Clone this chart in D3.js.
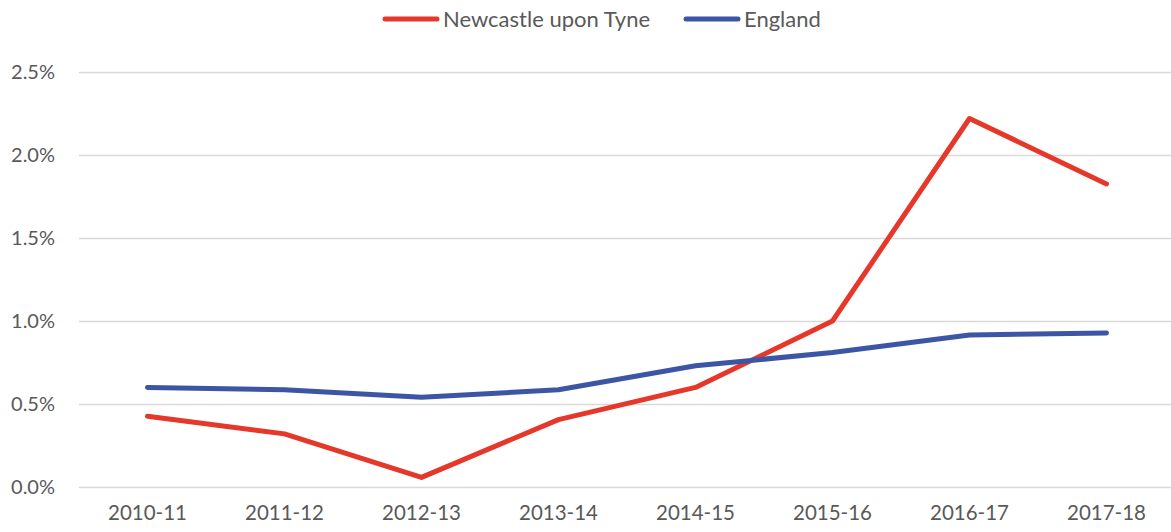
<!DOCTYPE html>
<html>
<head>
<meta charset="utf-8">
<script src="https://cdn.jsdelivr.net/npm/d3@7"></script>
<style>
  body { margin: 0; background: #fff; }
  svg { display: block; font-family: Lato, "Open Sans", sans-serif; }
</style>
</head>
<body>
<svg id="chart" width="1171" height="532"></svg>
<script>
const years = ["2010-11", "2011-12", "2012-13", "2013-14", "2014-15", "2015-16", "2016-17", "2017-18"];
const newcastle = [0.426, 0.32, 0.058, 0.406, 0.60, 1.0, 2.22, 1.826];
const england = [0.60, 0.586, 0.54, 0.586, 0.73, 0.81, 0.916, 0.928];
const yTicks = [0, 0.5, 1.0, 1.5, 2.0, 2.5];

const series = [
  {name: "Newcastle upon Tyne", values: newcastle, color: "#E5372A"},
  {name: "England", values: england, color: "#3D55A5"}
];

const width = 1171, height = 532;
const margin = {top: 72, right: 0, bottom: 45, left: 79};

const svg = d3.select("#chart");

const x = d3.scaleBand()
    .domain(years)
    .range([margin.left, margin.left + 137 * years.length]);

const y = d3.scaleLinear()
    .domain([0, 2.5])
    .range([height - margin.bottom, margin.top]);

// gridlines
svg.append("g")
  .selectAll("line")
  .data(yTicks)
  .join("line")
    .attr("x1", margin.left)
    .attr("x2", width)
    .attr("y1", d => Math.round(y(d)) + 0.5)
    .attr("y2", d => Math.round(y(d)) + 0.5)
    .attr("stroke", "#d9d9d9")
    .attr("stroke-width", 1.3);

// y labels
svg.append("g")
  .selectAll("text")
  .data(yTicks)
  .join("text")
    .attr("x", 55)
    .attr("y", d => y(d))
    .attr("dy", "0.35em")
    .attr("text-anchor", "end")
    .attr("fill", "#595959")
    .attr("font-size", 20)
    .text(d => d.toFixed(1) + "%");

// x labels
svg.append("g")
  .selectAll("text")
  .data(years)
  .join("text")
    .attr("x", d => x(d) + x.bandwidth() / 2)
    .attr("y", 520)
    .attr("text-anchor", "middle")
    .attr("fill", "#595959")
    .attr("font-size", 20.5)
    .text(d => d);

const line = d3.line()
    .x((d, i) => x(years[i]) + x.bandwidth() / 2)
    .y(d => y(d));

svg.append("g")
  .selectAll("path")
  .data(series)
  .join("path")
    .attr("fill", "none")
    .attr("stroke", d => d.color)
    .attr("stroke-width", 5)
    .attr("stroke-linejoin", "round")
    .attr("stroke-linecap", "round")
    .attr("d", d => line(d.values));

// legend
const legendPos = [383, 684];
const legend = svg.append("g")
  .selectAll("g")
  .data(series)
  .join("g")
    .attr("transform", (d, i) => `translate(${legendPos[i]},19)`);

legend.append("line")
    .attr("x1", 2).attr("x2", 54)
    .attr("stroke", d => d.color)
    .attr("stroke-width", 5)
    .attr("stroke-linecap", "round");

legend.append("text")
    .attr("x", 60)
    .attr("dy", "0.35em")
    .attr("fill", "#595959")
    .attr("font-size", 22)
    .text(d => d.name);
</script>
</body>
</html>
